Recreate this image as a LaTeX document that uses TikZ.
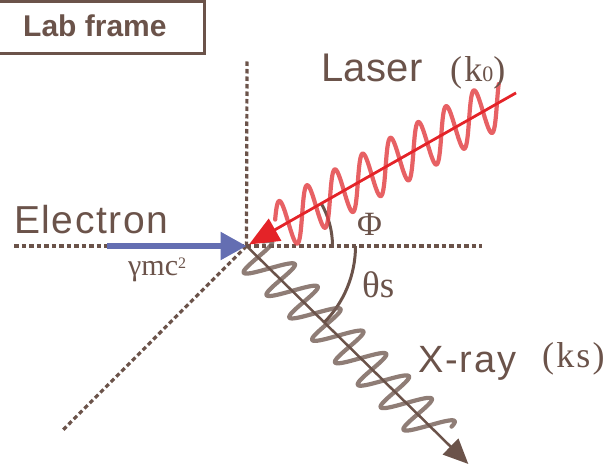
\documentclass[tikz,border=0pt]{standalone}
\usepackage{fontspec}
\setmainfont{Liberation Serif}
\setsansfont{Liberation Sans}
\usetikzlibrary{arrows.meta,calc}
\definecolor{brn}{RGB}{107,83,74}
\definecolor{wbrn}{RGB}{118,96,88}
\definecolor{lred}{RGB}{228,35,40}
\definecolor{wred}{RGB}{226,62,66}
\definecolor{eblue}{RGB}{100,110,178}
\tikzset{
  guide/.style={brn, line width=3.2pt, dash pattern=on 4.5pt off 3pt},
  lbl/.style={anchor=base west, inner sep=0pt, text=brn},
  wave/.style={line width=4.2pt, opacity=0.82, line cap=round, line join=round},
  anglearc/.style={brn, line width=3pt}
}
\begin{document}
\begin{tikzpicture}[x=1pt,y=1pt]
\useasboundingbox (0,0) rectangle (609,464);
% frame label
\draw[brn, line width=3pt] (0,462.5) -- (204,462.5) -- (204,410.5) -- (0,410.5);
\node[lbl] (lab) at (23,427) {\sffamily\bfseries\fontsize{30}{30}\selectfont Lab frame};
% key points
\coordinate (O) at (246.5,218);
\coordinate (vtop) at (247,404);
\coordinate (hl) at (14,218);
\coordinate (hr) at (482,218);
\coordinate (dg) at (63,34);
\coordinate (estart) at (107,218);
\coordinate (ltip) at (249,219.5);
\coordinate (lstart) at ($(O)+(29.6:310pt)$);
\coordinate (xend) at ($(O)+(-44.5:311pt)$);
% guides
\draw[guide] (O) -- (vtop);
\draw[guide] (hl) -- (hr);
\draw[guide] (O) -- (dg);
% angle arcs
\draw[anglearc] ($(O)+(86pt,0)$) arc[start angle=0, end angle=29.6, radius=86pt];
\draw[anglearc] ($(O)+(109pt,0)$) arc[start angle=0, end angle=-45, radius=109pt];
% waves
\begin{scope}[shift={(O)}, rotate=29.6]
  \draw[wave, wred] plot[domain=34:292, samples=600, smooth]
    ({\x + 0.45*23*sin(11.25*\x)}, {23*sin(11.25*\x)});
\end{scope}
\begin{scope}[shift={(O)}, rotate=-44.5]
  \draw[wave, wbrn] plot[domain=4:268, samples=600, smooth]
    ({\x + 0.33*21*sin(11.25*\x)}, {21*sin(11.25*\x)});
\end{scope}
% arrows
\draw[eblue, line width=5.5pt, -{Triangle[length=26pt,width=27pt]}] (estart) -- (O);
\draw[lred, line width=2.8pt, -{Triangle[length=30pt,width=25pt]}] (lstart) -- (ltip);
\draw[brn, line width=2.5pt, -{Triangle[length=25pt,width=22pt]}] (O) -- (xend);
% labels
\node[lbl] (elec) at (14,231) {\sffamily\fontsize{39}{39}\selectfont\addfontfeature{LetterSpace=4}Electron};
\node[lbl] (gmc) at (128,189) {\fontsize{30}{30}\selectfont γmc\raisebox{7pt}{\fontsize{16}{16}\selectfont 2}};
\node[lbl] (laser) at (321,382) {\sffamily\fontsize{40}{40}\selectfont\addfontfeature{LetterSpace=1}Laser};
\node[lbl] (k0) at (450,382) {\fontsize{36}{36}\selectfont\addfontfeature{LetterSpace=6}(k{\fontsize{22}{22}\selectfont 0})};
\node[lbl] (phi) at (357,229) {\fontsize{34}{34}\selectfont Φ};
\node[lbl] (th) at (362,167) {\fontsize{37}{37}\selectfont θs};
\node[lbl] (xray) at (418,92) {\sffamily\fontsize{38}{38}\selectfont\addfontfeature{LetterSpace=5}X-ray};
\node[lbl] (ks) at (542,97) {\fontsize{36}{36}\selectfont\addfontfeature{LetterSpace=6}(ks)};
\end{tikzpicture}
\end{document}
